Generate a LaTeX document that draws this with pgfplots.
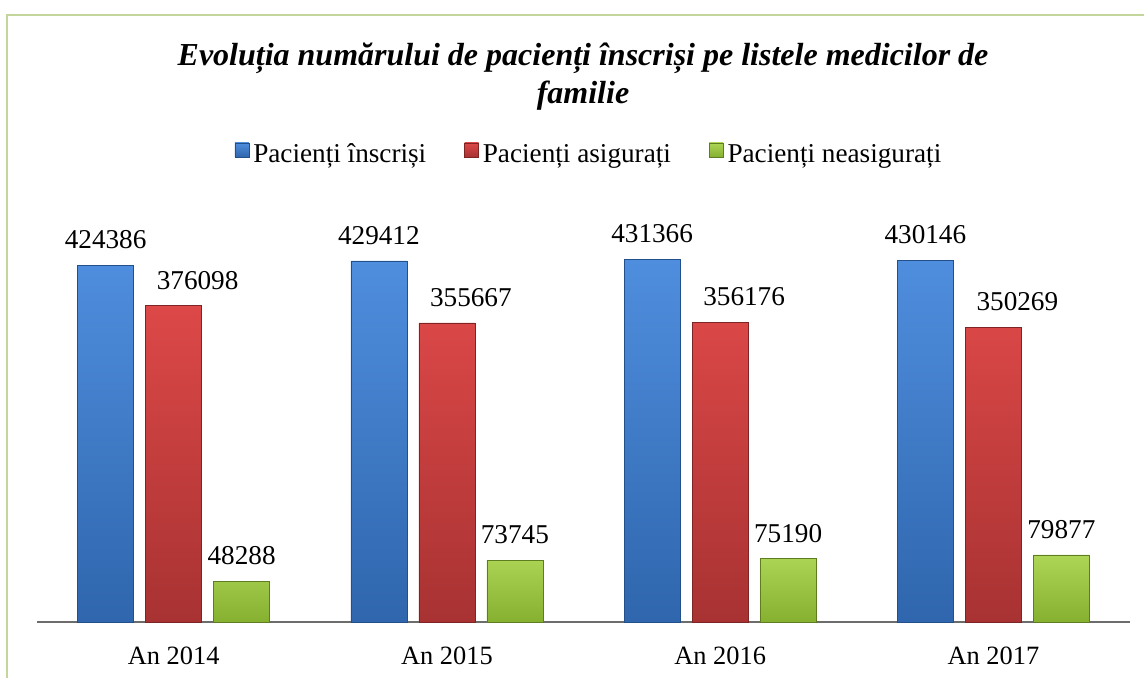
\documentclass[border=0pt]{standalone}
\usepackage{pgfplots}
\pgfplotsset{compat=1.18}
\usepackage{fontspec}
\setmainfont{Liberation Serif}
\definecolor{frameg}{HTML}{C3D69B}
\definecolor{bluetop}{HTML}{4F8EDE}
\definecolor{bluebot}{HTML}{2F66AD}
\definecolor{blueedge}{HTML}{23508A}
\definecolor{redtop}{HTML}{DD4848}
\definecolor{redbot}{HTML}{A83232}
\definecolor{rededge}{HTML}{7E2424}
\definecolor{greentop}{HTML}{AED656}
\definecolor{greenbot}{HTML}{86B030}
\definecolor{greenedge}{HTML}{5E7D20}
\begin{document}
\begin{tikzpicture}
\begin{scope}[x=0.5pt,y=-0.5pt]
\useasboundingbox (0,0) rectangle (1144,677);
\draw[frameg, line width=1pt] (7,700) -- (7,15) -- (1160,15);
\node[font=\fontsize{16}{19}\selectfont\bfseries\itshape, anchor=base, inner sep=0pt] at (583,65) {Evoluția numărului de pacienți înscriși pe listele medicilor de};
\node[font=\fontsize{16}{19}\selectfont\bfseries\itshape, anchor=base, inner sep=0pt] at (583,103) {familie};
\end{scope}
\begin{axis}[
  at={(18.5pt,-311pt)}, anchor=south west,
  scale only axis, width=546.5pt, height=210.25pt,
  xmin=-0.5, xmax=3.5, ymin=0, ymax=500000,
  axis x line*=bottom, axis y line=none,
  x axis line style={draw=gray!85!black, line width=0.8pt},
  ytick=\empty,
  xtick={0,1,2,3},
  xticklabels={An 2014,An 2015,An 2016,An 2017},
  major tick length=0pt,
  xticklabel style={anchor=base, yshift=-21pt, font=\fontsize{13.2}{15}\selectfont},
  ybar=6pt, bar width=28pt,
  /pgf/number format/assume math mode=true,
  /pgf/number format/fixed,
  /pgf/number format/precision=0,
  /pgf/number format/1000 sep={},
  nodes near coords,
  every node near coord/.append style={font=\fontsize{13.6}{16}\selectfont, inner sep=0pt, yshift=8pt},
  legend columns=3,
  legend style={at={(0.505,1.111)}, anchor=center, draw=none, fill=none,
    font=\fontsize{13.6}{16}\selectfont,
    nodes={inner sep=1pt},
    /tikz/every odd column/.append style={column sep=1pt},
    /tikz/every even column/.append style={column sep=18pt}},
  legend image code/.code={\path[#1] (0pt,-1pt) rectangle (7pt,6pt);},
]
\addplot[top color=bluetop, bottom color=bluebot, draw=blueedge, line width=0.3pt] coordinates {(0,424386) (1,429412) (2,431366) (3,430146)};
\addplot[top color=redtop, bottom color=redbot, draw=rededge, line width=0.3pt, nodes near coords style={xshift=12pt}] coordinates {(0,376098) (1,355667) (2,356176) (3,350269)};
\addplot[top color=greentop, bottom color=greenbot, draw=greenedge, line width=0.3pt] coordinates {(0,48288) (1,73745) (2,75190) (3,79877)};
\legend{Pacienți înscriși, Pacienți asigurați, Pacienți neasigurați}
\end{axis}
\end{tikzpicture}
\end{document}
